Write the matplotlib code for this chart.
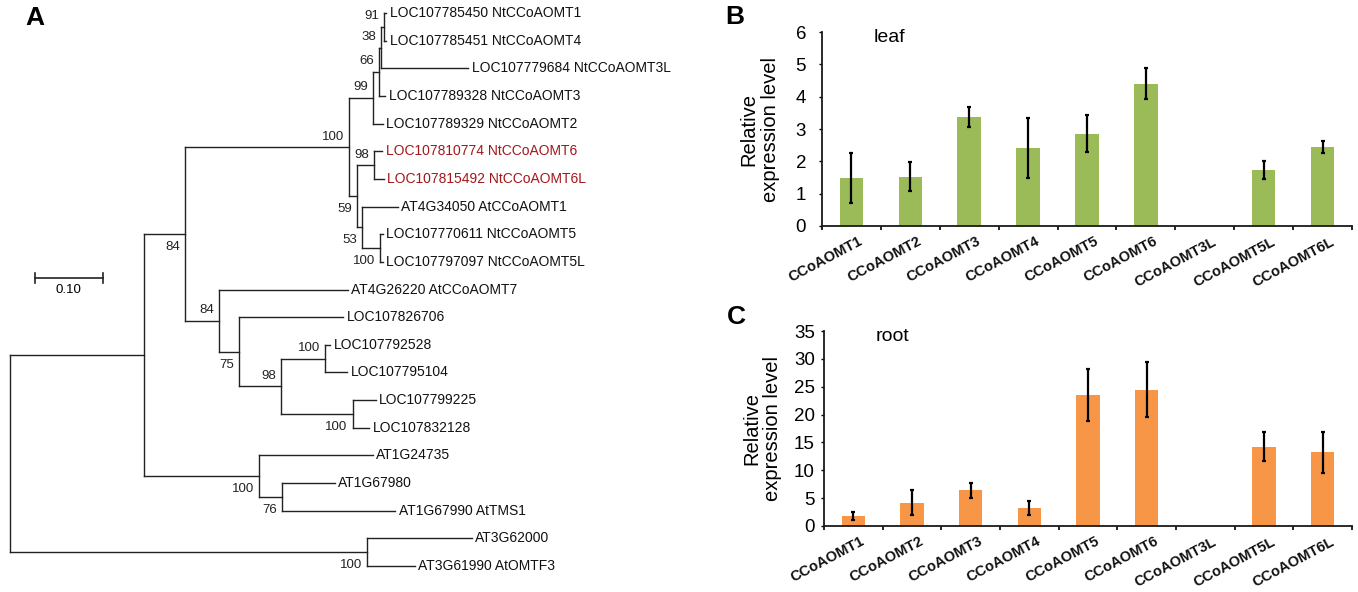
import numpy as np
import matplotlib
matplotlib.use("Agg")
from matplotlib import pyplot as plt

plt.rcParams["font.family"] = ["Liberation Sans", "DejaVu Sans"]

# --- data ---------------------------------------------------------------
# tree (MEGA style), bootstrap values as internal labels, branch lengths
tree_newick = (
    "((((((((LOC107785450_NtCCoAOMT1:0.004,LOC107785451_NtCCoAOMT4:0.004)91:0.004,"
    "LOC107779684_NtCCoAOMT3L:0.129)38:0.003,LOC107789328_NtCCoAOMT3:0.009)66:0.009,"
    "LOC107789329_NtCCoAOMT2:0.015)99:0.035,"
    "((LOC107810774_NtCCoAOMT6:0.013,LOC107815492_NtCCoAOMT6L:0.015)98:0.024,"
    "(AT4G34050_AtCCoAOMT1:0.053,(LOC107770611_NtCCoAOMT5:0.004,"
    "LOC107797097_NtCCoAOMT5L:0.004)100:0.027)53:0.007)59:0.012)100:0.242,"
    "(AT4G26220_AtCCoAOMT7:0.191,(LOC107826706:0.154,((LOC107792528:0.007,"
    "LOC107795104:0.032)100:0.066,(LOC107799225:0.034,LOC107832128:0.025)100:0.106)98:0.062)"
    "75:0.030)84:0.049)84:0.061,(AT1G24735:0.168,(AT1G67980:0.078,"
    "AT1G67990_AtTMS1:0.167)76:0.034)100:0.170):0.198,"
    "(AT3G62000:0.155,AT3G61990_AtOMTF3:0.071)100:0.527);"
)
highlight = ["LOC107810774_NtCCoAOMT6", "LOC107815492_NtCCoAOMT6L"]
# where the bootstrap value sits: above (a) or below (b) the node
boot_side = {"91": "a", "38": "a", "66": "a", "99": "a", "98a": "a", "59": "b",
             "53": "b", "84a": "a", "84b": "b", "75": "b", "76": "b"}

genes = ["CCoAOMT1", "CCoAOMT2", "CCoAOMT3", "CCoAOMT4", "CCoAOMT5",
         "CCoAOMT6", "CCoAOMT3L", "CCoAOMT5L", "CCoAOMT6L"]
leaf_mean = [1.48, 1.52, 3.38, 2.42, 2.85, 4.40, np.nan, 1.73, 2.44]
leaf_sd = [0.77, 0.45, 0.31, 0.93, 0.57, 0.48, np.nan, 0.29, 0.19]
root_mean = [1.8, 4.2, 6.4, 3.2, 23.5, 24.5, np.nan, 14.2, 13.2]
root_sd = [0.75, 2.3, 1.35, 1.25, 4.6, 5.0, np.nan, 2.6, 3.65]


def parse(s):
    pos = 0

    def node():
        nonlocal pos
        kids = []
        if s[pos] == "(":
            pos += 1
            kids.append(node())
            while s[pos] == ",":
                pos += 1
                kids.append(node())
            pos += 1
        start = pos
        while s[pos] not in ",():;":
            pos += 1
        label = s[start:pos]
        length = 0.0
        if s[pos] == ":":
            pos += 1
            start = pos
            while s[pos] not in ",();":
                pos += 1
            length = float(s[start:pos])
        return {"label": label, "len": length, "kids": kids}

    return node()


def layout(n, x0, counter):
    n["x"] = x0 + n["len"]
    if not n["kids"]:
        n["y"] = counter[0]
        counter[0] += 1
    else:
        for k in n["kids"]:
            layout(k, n["x"], counter)
        n["y"] = (n["kids"][0]["y"] + n["kids"][-1]["y"]) / 2


W, H = 1358, 592
fig = plt.figure(figsize=(W / 100, H / 100), dpi=100)

# --- A: tree ------------------------------------------------------------
root = parse(tree_newick)
layout(root, 0.0, [0])
px_per_unit = 677.0
row = 27.65
ax = fig.add_axes([0, 0, 680 / W, 1])
ax.set_xlim(-10 / px_per_unit, 670 / px_per_unit)
ax.set_ylim((H - 13) / row, -13 / row)
ax.axis("off")

seen = {}


def draw(n):
    if not n["kids"]:
        name = n["label"].replace("_", " ")
        col = "#a3161a" if n["label"] in highlight else "#111111"
        ax.annotate(name, (n["x"], n["y"]), xytext=(2.5, 0), textcoords="offset points",
                    ha="left", va="center", fontsize=10, color=col)
        return
    ys = [k["y"] for k in n["kids"]]
    ax.plot([n["x"], n["x"]], [min(ys), max(ys)], color="#222222", lw=1.0)
    for k in n["kids"]:
        ax.plot([n["x"], k["x"]], [k["y"], k["y"]], color="#222222", lw=1.0)
        draw(k)
    lab = n["label"]
    if lab:
        seen[lab] = seen.get(lab, 0) + 1
        key = lab + ("a" if seen[lab] == 1 else "b") if lab in ("98", "84") else lab
        side = boot_side.get(key, "a")
        if lab == "100":
            side = "a" if n["y"] < 8 or (10 < n["y"] < 13) else "b"
        dy = 7.5 if side == "a" else -9.5
        ax.annotate(lab, (n["x"], n["y"]), xytext=(-3.5, dy), textcoords="offset points",
                    ha="right", va="center", fontsize=9.5, color="#222222")


draw(root)

# scale bar 0.10
sb_x0 = 25 / px_per_unit
sb_y = (278 - 13) / row
ax.plot([sb_x0, sb_x0 + 0.10], [sb_y, sb_y], color="#222222", lw=1.2)
for xx in (sb_x0, sb_x0 + 0.10):
    ax.plot([xx, xx], [sb_y - 0.18, sb_y + 0.18], color="#222222", lw=1.2)
ax.text(sb_x0 + 0.05, sb_y + 0.45, "0.10", ha="center", va="center", fontsize=9.5)

fig.text(35 / W, 1 - 18 / H, "A", fontsize=19, fontweight="bold", ha="center", va="center")
fig.text(735 / W, 1 - 17 / H, "B", fontsize=19, fontweight="bold", ha="center", va="center")
fig.text(736 / W, 1 - 317 / H, "C", fontsize=19, fontweight="bold", ha="center", va="center")


# --- B and C: bar charts ----------------------------------------------
def bars(rect, mean, sd, color, ymax, ystep, title, ypad):
    a = fig.add_axes(rect)
    x = np.arange(len(genes))
    a.bar(x, mean, width=0.4, color=color, zorder=2)
    a.errorbar(x, mean, yerr=sd, fmt="none", ecolor="black", elinewidth=1.6,
               capsize=1.5, capthick=1.6, zorder=3)
    a.set_xlim(-0.5, len(genes) - 0.5)
    a.set_ylim(0, ymax)
    a.set_yticks(np.arange(0, ymax + 0.1, ystep))
    a.set_xticks(x + 0.12)
    a.set_xticklabels(genes, rotation=28, ha="right", rotation_mode="anchor",
                      fontsize=10.5, fontweight="bold", color="#111111")
    a.set_xticks(np.arange(-0.5, len(genes), 1.0), minor=True)
    a.tick_params(axis="x", which="major", length=0, pad=6)
    a.tick_params(axis="x", which="minor", length=3, width=1.2, direction="out")
    a.tick_params(axis="y", length=2.5, width=1.0, labelsize=13.5, pad=ypad)
    for s in ("top", "right"):
        a.spines[s].set_visible(False)
    for s in ("left", "bottom"):
        a.spines[s].set_linewidth(1.3)
        a.spines[s].set_color("#1a1a1a")
    a.text(0.098, 0.972, title, transform=a.transAxes, ha="left", va="center", fontsize=14)
    a.text(-0.117, 0.5, "Relative\nexpression level", transform=a.transAxes, rotation=90,
           ha="center", va="center", fontsize=14.5, linespacing=1.15)
    return a


bars([822 / W, 1 - 226 / H, 530 / W, 194 / H], leaf_mean, leaf_sd, "#9bbb59", 6, 1, "leaf", 9)
bars([824 / W, 1 - 526 / H, 528 / W, 195 / H], root_mean, root_sd, "#f79646", 35, 5, "root", 4)

fig.savefig("out.png", dpi=100)
